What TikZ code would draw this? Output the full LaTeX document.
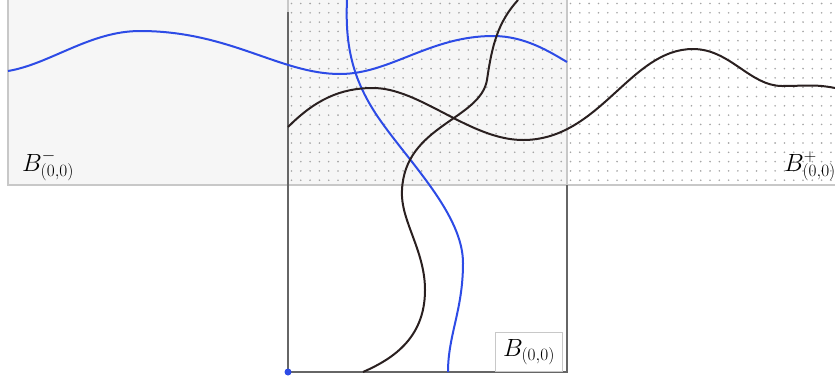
\documentclass[tikz,border=0pt]{standalone}
\definecolor{cblue}{RGB}{45,75,230}
\definecolor{cdark}{RGB}{42,32,32}
\definecolor{fillgray}{RGB}{246,246,246}
\definecolor{edgegray}{RGB}{200,200,200}
\definecolor{dotgray}{RGB}{165,165,165}
\tikzset{
  bluecurve/.style={draw=cblue, line width=2pt},
  darkcurve/.style={draw=cdark, line width=2pt},
  lbl/.style={font=\fontsize{24}{28}\selectfont, inner sep=2pt},
}
\begin{document}
\begin{tikzpicture}[x=1pt,y=-1pt]
\useasboundingbox (0,0) rectangle (835,381);
% regions
\fill[fillgray] (8,0) rectangle (288,185);
\fill[fillgray] (288,0) rectangle (567,185);
\fill[white] (567,0) rectangle (835,185);
\fill[white] (288,185) rectangle (567,372);
% dots
\foreach \i in {0,...,58}{
  \foreach \j in {0,...,19}{
    \fill[dotgray] ({291.5+9.3*\i},{3.5+9.3*\j}) circle (0.9);
  }
}
% borders
\draw[edgegray, line width=1.2pt] (8,0) -- (8,185) -- (835,185);
\draw[edgegray, line width=1.2pt] (567,0) -- (567,185);
\draw[edgegray, line width=1.2pt] (288,0) -- (288,12);
\draw[black!60, line width=1.5pt] (288,12) -- (288,372) -- (567,372) -- (567,185);
% curves
\draw[bluecurve] (8,71) .. controls (50,64) and (90,31) .. (140,31)
  .. controls (230,31) and (280,74) .. (340,74)
  .. controls (390,74) and (430,36) .. (493,36)
  .. controls (525,36) and (550,52) .. (567,62);
\draw[bluecurve] (347,0) .. controls (345,45) and (352,80) .. (380,120)
  .. controls (410,163) and (463,215) .. (463,263)
  .. controls (463,310) and (448,335) .. (448,372);
\draw[darkcurve] (288,127) .. controls (315,100) and (340,88) .. (373,88)
  .. controls (420,88) and (470,140) .. (523,140)
  .. controls (600,140) and (630,49) .. (693,49)
  .. controls (730,49) and (750,86) .. (782,86)
  .. controls (805,86) and (815,84) .. (835,88);
\draw[darkcurve] (518,0) .. controls (498,22) and (492,45) .. (487,80)
  .. controls (480,120) and (405,125) .. (402,190)
  .. controls (400,220) and (425,250) .. (425,290)
  .. controls (425,340) and (390,360) .. (363,372);
% origin dot
\fill[cblue] (288,372) circle (3.5);
% labels
\node[lbl, anchor=base west] (bminus) at (20,171) {$B^-_{(0,0)}$};
\node[lbl, anchor=base east, inner sep=0pt] (bplus) at (836,171) {$B^+_{(0,0)}$};
\node[lbl, anchor=south east, draw=edgegray, line width=1pt, fill=white, minimum width=67, minimum height=39, inner sep=3pt] (bzero) at (563,372) {$B_{(0,0)}$};
\end{tikzpicture}
\end{document}
